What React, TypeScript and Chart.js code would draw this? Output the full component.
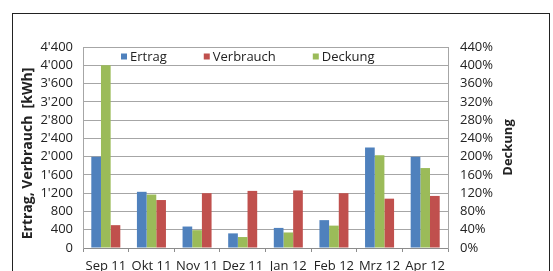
import React, { useEffect, useRef } from "react";
import { Chart, registerables } from "chart.js";

Chart.register(...registerables);

const categories = ["Sep 11", "Okt 11", "Nov 11", "Dez 11", "Jan 12", "Feb 12", "Mrz 12", "Apr 12"];
const ertrag = [2000, 1230, 470, 320, 440, 610, 2200, 2000];
const verbrauch = [500, 1050, 1200, 1250, 1260, 1200, 1080, 1140];
const deckung = [400, 117, 39, 24, 34, 49, 203, 175];

const leftMax = 4400;
const leftStep = 400;
const rightMax = 440;
const rightStep = 40;

const legendLabels = ["Ertrag", "Verbrauch", "Deckung"];
const leftTitle = "Ertrag, Verbrauch  [kWh]";
const rightTitle = "Deckung";
const BLUE = "#4F81BD";
const RED = "#C0504D";
const GREEN = "#9BBB59";
const legendColors = [BLUE, RED, GREEN];

const FONT = "'Open Sans', 'Liberation Sans', sans-serif";
const TEXT = "#222222";
const GRID = "#a6a6a6";

function fmtThousands(v: number): string {
  const s = String(Math.round(v));
  return s.replace(/\B(?=(\d{3})+(?!\d))/g, "'");
}

const legendPlugin = {
  id: "insideLegend",
  afterDraw(chart: any) {
    const { ctx, chartArea } = chart;
    ctx.save();
    ctx.font = `13px ${FONT}`;
    ctx.textBaseline = "middle";
    ctx.textAlign = "left";
    const y = chartArea.top + 9.5;
    let x = chartArea.left + 38;
    const box = 6;
    legendLabels.forEach((label, i) => {
      ctx.fillStyle = legendColors[i];
      ctx.fillRect(x, y - box / 2, box, box);
      x += box + 3;
      ctx.fillStyle = TEXT;
      ctx.fillText(label, x, y + 0.5);
      x += ctx.measureText(label).width + 37;
    });
    ctx.restore();

    // left axis title, reading bottom to top
    const midY = (chartArea.top + chartArea.bottom) / 2;
    ctx.save();
    ctx.fillStyle = TEXT;
    ctx.textBaseline = "middle";
    ctx.textAlign = "center";
    ctx.font = `bold 14px ${FONT}`;
    ctx.translate(chart.scales.y.left + 14, midY + 6);
    ctx.rotate(-Math.PI / 2);
    ctx.fillText(leftTitle, 0, 0);
    ctx.restore();

    // right axis title, reading bottom to top
    const s = chart.scales.y1;
    ctx.save();
    ctx.fillStyle = TEXT;
    ctx.textBaseline = "middle";
    ctx.textAlign = "center";
    ctx.font = `bold 13px ${FONT}`;
    ctx.translate(s.right - 12, midY);
    ctx.rotate(-Math.PI / 2);
    ctx.fillText(rightTitle, 0, 0);
    ctx.restore();
  },
};

export default function App() {
  const canvasRef = useRef<HTMLCanvasElement | null>(null);

  useEffect(() => {
    if (!canvasRef.current) return;
    const chart = new Chart(canvasRef.current, {
      type: "bar",
      data: {
        labels: categories,
        datasets: [
          { label: "Ertrag", data: ertrag, backgroundColor: BLUE, yAxisID: "y" },
          { label: "Deckung", data: deckung, backgroundColor: GREEN, yAxisID: "y1" },
          { label: "Verbrauch", data: verbrauch, backgroundColor: RED, yAxisID: "y" },
        ],
      },
      options: {
        responsive: false,
        animation: false,
        devicePixelRatio: 1,
        categoryPercentage: 0.636,
        barPercentage: 1,
        layout: { padding: { left: 14, right: 33, top: 47, bottom: 0 } },
        plugins: {
          legend: { display: false },
          tooltip: { enabled: false },
        },
        scales: {
          x: {
            offset: true,
            grid: {
              offset: true,
              drawOnChartArea: false,
              drawTicks: true,
              tickLength: 4,
              color: "#8c8c8c",
            },
            border: { color: "#8c8c8c" },
            ticks: {
              color: TEXT,
              font: { family: FONT, size: 13 },
              padding: 6,
              maxRotation: 0,
              autoSkip: false,
            },
            afterFit: (s: any) => {
              s.height = 23;
            },
          },
          y: {
            position: "left",
            min: 0,
            max: leftMax,
            ticks: {
              stepSize: leftStep,
              autoSkip: false,
              color: TEXT,
              font: { family: FONT, size: 13 },
              padding: 10,
              callback: (v: any) => fmtThousands(Number(v)),
            },
            grid: { color: GRID, drawTicks: false },
            border: { color: GRID },
            afterFit: (s: any) => {
              s.width = 69;
            },
          },
          y1: {
            position: "right",
            min: 0,
            max: rightMax,
            ticks: {
              stepSize: rightStep,
              autoSkip: false,
              color: TEXT,
              font: { family: FONT, size: 13 },
              padding: 12,
              callback: (v: any) => `${v}%`,
            },
            grid: { drawOnChartArea: false, drawTicks: false, color: GRID },
            border: { color: GRID },
            afterFit: (s: any) => {
              s.width = 72;
            },
          },
        },
      },
      plugins: [legendPlugin],
    });
    return () => chart.destroy();
  }, []);

  return (
    <div
      style={{
        position: "absolute",
        left: 0,
        top: 0,
        width: 553,
        height: 271,
        overflow: "hidden",
        background: "#ffffff",
      }}
    >
      <div
        style={{
          position: "absolute",
          left: 12,
          top: 13,
          width: 538,
          height: 320,
          boxSizing: "border-box",
          border: "1px solid #222222",
        }}
      />
      <canvas
        ref={canvasRef}
        width={553}
        height={271}
        style={{ position: "absolute", left: 0, top: 0, width: 553, height: 271 }}
      />
    </div>
  );
}
